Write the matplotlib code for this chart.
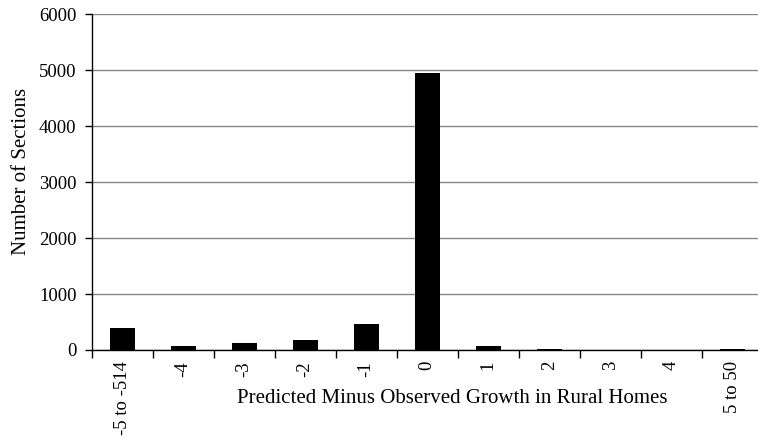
import numpy as np
import matplotlib
matplotlib.use("Agg")
import matplotlib.pyplot as plt

categories = ["-5 to -514", "-4", "-3", "-2", "-1", "0", "1", "2", "3", "4", "5 to 50"]
sections = [389, 66, 120, 180, 467, 4958, 78, 12, 3, 3, 12]
y_ticks = [0, 1000, 2000, 3000, 4000, 5000, 6000]

plt.rcParams["font.family"] = ["Liberation Serif", "DejaVu Serif"]

fig = plt.figure(figsize=(7.58, 4.38), dpi=100)
ax = fig.add_axes([91.7 / 758, 88 / 438, 671 / 758, 335.7 / 438])

x = np.arange(len(categories))
ax.bar(x, sections, width=0.41, color="black", zorder=3)

ax.set_xlim(-0.5, len(categories) - 0.5)
ax.set_ylim(0, 6000)
ax.set_yticks(y_ticks)
ax.set_yticklabels([str(v) for v in y_ticks], fontsize=13.5)
ax.yaxis.grid(True, color="#888888", linewidth=1, zorder=0)

ax.set_xticks(x)
ax.set_xticklabels(categories, rotation=90, fontsize=13.5, va="top")
ax.set_xticks(np.arange(len(categories)) - 0.5, minor=True)
ax.tick_params(axis="x", which="major", length=0, pad=8)
ax.tick_params(axis="x", which="minor", length=6, direction="out", width=1)
ax.tick_params(axis="y", length=5, direction="out", width=1, pad=6)

for s in ["top", "right"]:
    ax.spines[s].set_visible(False)
ax.spines["left"].set_linewidth(1)
ax.spines["bottom"].set_linewidth(1)

ax.set_ylabel("Number of Sections", fontsize=15, va="center")
ax.yaxis.set_label_coords(-0.105, 0.533)
ax.set_xlabel("Predicted Minus Observed Growth in Rural Homes", fontsize=15, va="center")
ax.xaxis.set_label_coords((452 - 91.7) / 671, -0.143)

fig.savefig("out.png", dpi=100)
